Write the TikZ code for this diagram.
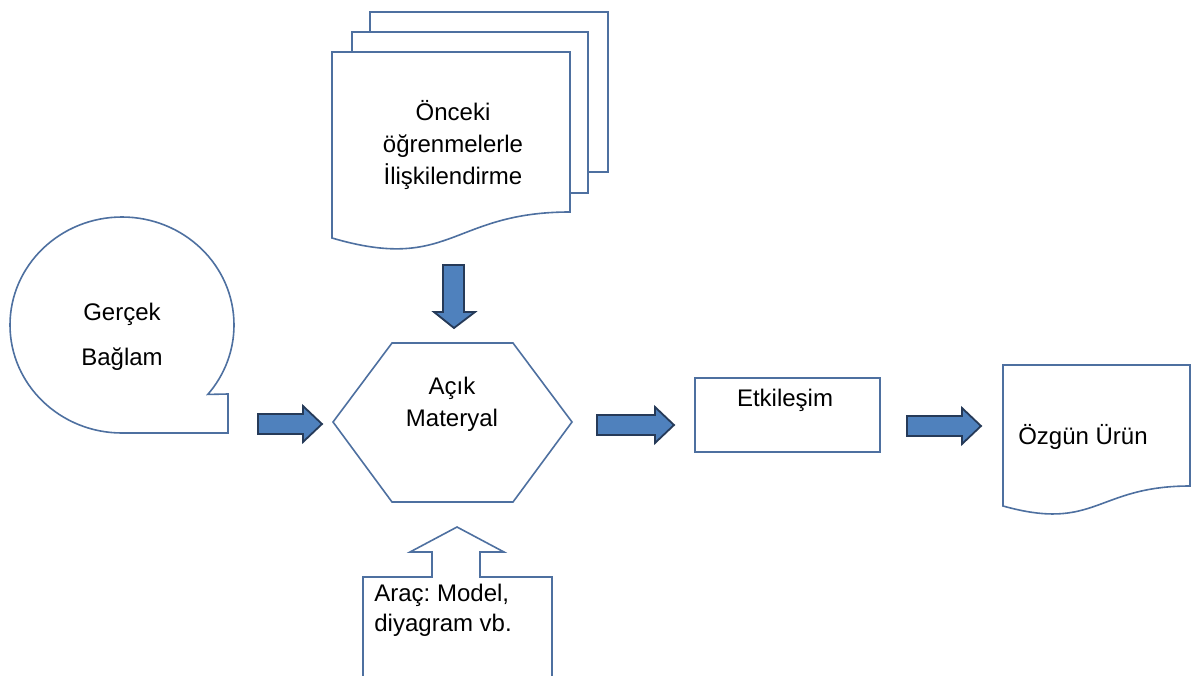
\documentclass[tikz,border=0pt]{standalone}
\usepackage{fontspec}
\setmainfont{Liberation Sans}
\frenchspacing
\definecolor{shapeline}{RGB}{78,112,160}
\definecolor{arrowfill}{RGB}{79,129,189}
\definecolor{arrowline}{RGB}{38,58,88}

\begin{document}
\begin{tikzpicture}[x=0.5pt, y=-0.5pt,
    outlined/.style={draw=shapeline, line width=0.8pt, fill=white, line join=miter},
    blockarrow/.style={draw=arrowline, line width=0.9pt, fill=arrowfill},
    txt/.style={font=\fontsize{12}{16}\selectfont, align=center, inner sep=0pt}]

\useasboundingbox (0,0) rectangle (1193,675);
\clip (0,0) rectangle (1193,675);

% previous learning (stacked documents)
\draw [outlined] (370,12) rectangle (608,172);
\draw [outlined] (352,32) rectangle (588,193);
\draw [outlined] (332,52) -- (570,52) -- (570,212) .. controls (451,212) and (451,273) .. (332,238) -- cycle;
\node [txt] (prior) at (453,145) {Önceki\\öğrenmelerle\\İlişkilendirme};

% real context (callout)
\draw [outlined] (122,433) arc [start angle=90, end angle=400, x radius=112, y radius=108] -- (228,394) -- (228,433) -- cycle;
\node [txt, font=\fontsize{12}{22.5}\selectfont] (context) at (122,337) {Gerçek\\Bağlam};

% open material
\draw [outlined] (333,422) -- (392,343) -- (513,343) -- (572,422) -- (513,502) -- (392,502) -- cycle;
\node [txt] (material) at (452,404) {Açık\\Materyal};

% interaction
\draw [outlined] (695,378) rectangle (880,452);
\node [txt] (interaction) at (785,400) {Etkileşim};

% original product
\draw [outlined] (1003,365) -- (1190,365) -- (1190,486) .. controls (1096,486) and (1096,532) .. (1003,506) -- cycle;
\node [txt] (product) at (1083,437) {Özgün Ürün};

% tools (up arrow callout)
\draw [outlined] (363,690) -- (363,577) -- (432,577) -- (432,552) -- (410,552) -- (457,527) -- (504,552) -- (480,552) -- (480,577) -- (552,577) -- (552,690);
\node [txt, align=left, anchor=west, font=\fontsize{12}{15}\selectfont] (tool) at (374,610) {Araç: Model,\\diyagram vb.};

% block arrows
\draw [blockarrow] (443,265) -- (464,265) -- (464,312) -- (475,312) -- (454,328) -- (434,312) -- (443,312) -- cycle;
\foreach \xa/\xb/\y in {258/322/424, 597/674/425, 907/981/426}{
    \draw [blockarrow] (\xa,\y-10) -- (\xb-19,\y-10) -- (\xb-19,\y-18) -- (\xb,\y) -- (\xb-19,\y+18) -- (\xb-19,\y+10) -- (\xa,\y+10) -- cycle;
}

\end{tikzpicture}
\end{document}
